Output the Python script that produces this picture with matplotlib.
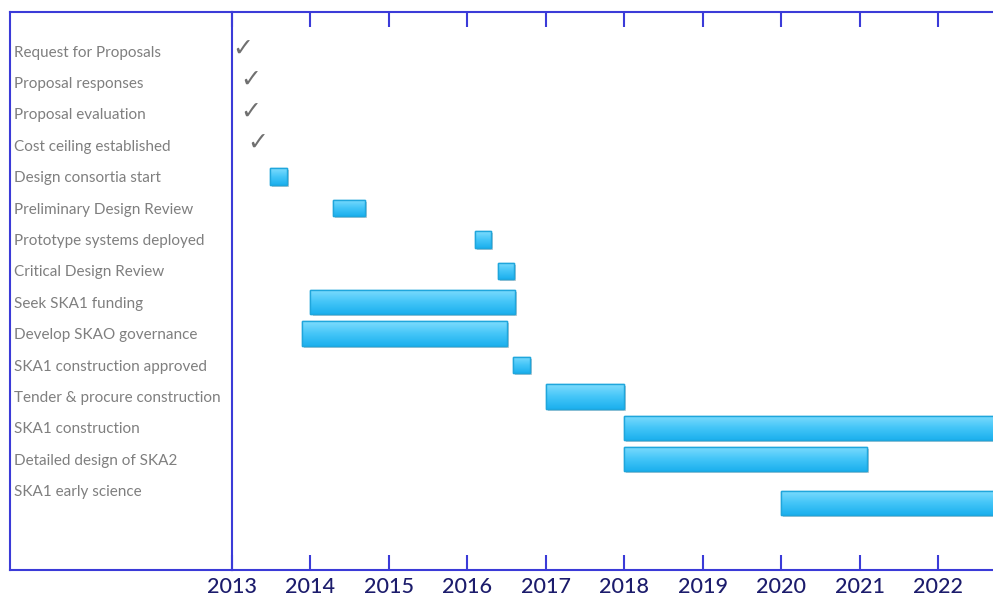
import numpy as np
import matplotlib.pyplot as plt
import matplotlib.patheffects as pe
from matplotlib.colors import LinearSegmentedColormap

# rows of the schedule, top to bottom
tasks = ["Request for Proposals", "Proposal responses", "Proposal evaluation",
         "Cost ceiling established", "Design consortia start",
         "Preliminary Design Review", "Prototype systems deployed",
         "Critical Design Review", "Seek SKA1 funding", "Develop SKAO governance",
         "SKA1 construction approved", "Tender & procure construction",
         "SKA1 construction", "Detailed design of SKA2", "SKA1 early science"]

# completed items (tick marks) and when they were ticked
done_tasks = ["Request for Proposals", "Proposal responses",
              "Proposal evaluation", "Cost ceiling established"]
done_at = [2013.14, 2013.24, 2013.24, 2013.33]

# timeline bars (fractional years)
bar_tasks = ["Design consortia start", "Preliminary Design Review",
             "Prototype systems deployed", "Critical Design Review",
             "Seek SKA1 funding", "Develop SKAO governance",
             "SKA1 construction approved", "Tender & procure construction",
             "SKA1 construction", "Detailed design of SKA2", "SKA1 early science"]
bar_start = [2013.48, 2014.29, 2016.10, 2016.39, 2014.00, 2013.89,
             2016.58, 2017.00, 2018.00, 2018.00, 2020.00]
bar_end = [2013.70, 2014.70, 2016.30, 2016.60, 2016.61, 2016.51,
           2016.80, 2018.00, 2023.50, 2021.10, 2023.50]
bar_lane = [4, 5, 6, 7, 8, 9, 10, 11, 12, 13, 14.4]

years = list(range(2013, 2023))

blue = '#3b3bd8'
W, H = 993, 598
fig = plt.figure(figsize=(W / 100, H / 100), dpi=100)
fig.patch.set_facecolor('white')

y_top, y_bot = -1.24, 16.53
bottom = 28 / H
height = 558 / H

# left box with the task names
ax_lab = fig.add_axes([10 / W, bottom, 222 / W, height])
ax_lab.set_ylim(y_bot, y_top)
ax_lab.set_xlim(0, 1)
ax_lab.set_xticks([])
ax_lab.set_yticks([])
for side in ['left', 'top', 'bottom']:
    ax_lab.spines[side].set_color(blue)
    ax_lab.spines[side].set_linewidth(1.5)
ax_lab.spines['right'].set_visible(False)
for i, name in enumerate(tasks):
    ax_lab.text(0.018, i + 0.05, name, transform=ax_lab.get_yaxis_transform(),
                ha='left', va='center', fontsize=11, color='#7f7f7f',
                family='Lato')

# timeline
ax = fig.add_axes([232 / W, bottom, (W - 232) / W, height])
x_max = 2013 + (W - 232) / 78.44

grad = np.linspace(0, 1, 64).reshape(-1, 1)
cmap = LinearSegmentedColormap.from_list('bar', ['#7fdcfd', '#45c6f8', '#1cb0ee'])

for name, s, e, lane in zip(bar_tasks, bar_start, bar_end, bar_lane):
    h = 0.52 if (e - s) < 0.5 else 0.78
    rect = ax.barh(lane, e - s, left=s, height=h, color='#3fc2f6',
                   edgecolor='#1fa6dc', linewidth=1.0, zorder=3)[0]
    rect.set_path_effects([pe.SimplePatchShadow(offset=(1.5, -1.5), alpha=0.25),
                           pe.Normal()])
    img = ax.imshow(grad, cmap=cmap, aspect='auto', origin='upper',
                    extent=(s, e, lane + h / 2, lane - h / 2), zorder=4)
    img.set_clip_path(rect)
    ax.barh(lane, e - s, left=s, height=h, color='none',
            edgecolor='#1fa6dc', linewidth=1.0, zorder=5)

for name, x in zip(done_tasks, done_at):
    ax.text(x, tasks.index(name) - 0.08, '\u2713', ha='center', va='center',
            fontsize=18, color='#707070', family='DejaVu Sans', zorder=5)

ax.set_xlim(2013, x_max)
ax.set_ylim(y_bot, y_top)
ax.set_yticks([])
ax.set_xticks(years)
ax.set_xticklabels([str(y) for y in years], fontsize=15.5, color='#1c1c6c',
                   family='Lato', fontweight='medium')
ax.tick_params(axis='x', which='both', direction='in', length=11, width=1.5,
               color=blue, top=True, bottom=True, pad=5)
for side in ['left', 'top', 'bottom']:
    ax.spines[side].set_color(blue)
    ax.spines[side].set_linewidth(1.5)
ax.spines['right'].set_visible(False)

fig.savefig('out.png', dpi=100, facecolor='white')
